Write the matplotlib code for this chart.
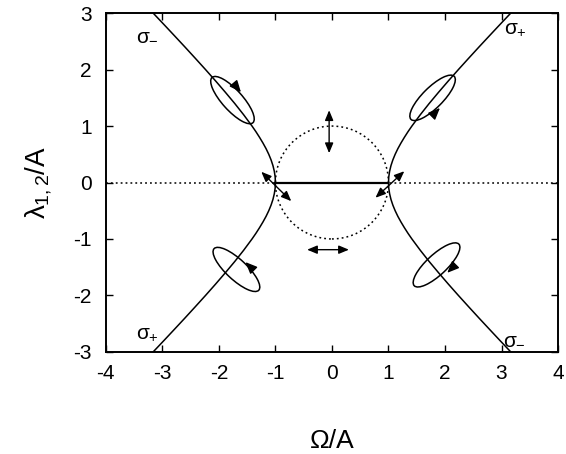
import matplotlib
matplotlib.use("Agg")
import matplotlib.pyplot as plt
from matplotlib.patches import Ellipse, Circle
import numpy as np

plt.rcParams['font.family'] = ['Liberation Sans', 'DejaVu Sans']
plt.rcParams['mathtext.fontset'] = 'custom'
plt.rcParams['mathtext.rm'] = 'Liberation Sans'
plt.rcParams['mathtext.it'] = 'Liberation Sans'
plt.rcParams['mathtext.bf'] = 'Liberation Sans'
plt.rcParams['axes.unicode_minus'] = False

# eigenvalue branch: lambda vs Omega (|Omega|>1)
lam_vals = [0.0, 0.1, 0.2, 0.3, 0.4, 0.5, 0.6, 0.7, 0.8, 0.9, 1.0,
            1.2, 1.4, 1.6, 1.8, 2.0, 2.2, 2.4, 2.6, 2.8, 3.0]
omg_vals = [1.000, 1.005, 1.020, 1.044, 1.077, 1.118, 1.166, 1.221, 1.281, 1.345, 1.414,
            1.562, 1.720, 1.887, 2.059, 2.236, 2.417, 2.600, 2.786, 2.973, 3.162]
# real-part segment between -1 and 1
seg_x = [-1.0, 1.0]
seg_y = [0.0, 0.0]
# zero line
zero_x = [-4.0, 4.0]
zero_y = [0.0, 0.0]
circle_radius = 1.0

# polarization ellipses: centre x, centre y, angle (deg)
ell_cx = [-1.76, 1.78, -1.69, 1.85]
ell_cy = [1.46, 1.50, -1.54, -1.46]
ell_ang = [-48, 45, -43, 43]
ell_w = 1.08
ell_h = 0.36
# arrowheads on ellipses: head x, head y, direction (deg)
head_x = [-1.61, 1.91, -1.53, 2.04]
head_y = [1.60, 1.32, -1.41, -1.60]
head_dir = [-50, 45, 135, -135]

# double arrows: (x0, y0, x1, y1)
dbl_arrows = [(-1.25, 0.19, -0.72, -0.33),
              (0.77, -0.27, 1.28, 0.20),
              (-0.05, 1.28, -0.05, 0.52),
              (-0.44, -1.19, 0.30, -1.19)]

# labels
sig_text = [r'$\sigma_{-}$', r'$\sigma_{+}$', r'$\sigma_{+}$', r'$\sigma_{-}$']
sig_x = [-3.47, 3.05, -3.47, 3.02]
sig_y = [2.62, 2.72, -2.68, -2.76]

fig = plt.figure(figsize=(5.66, 4.54), dpi=100)
ax = fig.add_axes([0.187, 0.225, 0.799, 0.746])

lw = 1.1
om = np.array(omg_vals)
la = np.array(lam_vals)
for sx in (1, -1):
    for sy in (1, -1):
        ax.plot(sx * om, sy * la, color='black', lw=lw)

ax.plot(zero_x, zero_y, color='black', lw=1.1, linestyle=(0, (1.2, 2.0)))
ax.plot(seg_x, seg_y, color='black', lw=1.6)
ax.add_patch(Circle((0, 0), circle_radius, fill=False, color='black', lw=1.1,
                    linestyle=(0, (1.2, 2.0))))

for cx, cy, a in zip(ell_cx, ell_cy, ell_ang):
    ax.add_patch(Ellipse((cx, cy), ell_w, ell_h, angle=a, fill=False,
                         color='black', lw=1.1))

for hx, hy, d in zip(head_x, head_y, head_dir):
    r = np.deg2rad(d)
    tx, ty = hx - 0.12 * np.cos(r), hy - 0.12 * np.sin(r)
    ax.annotate('', xy=(hx, hy), xytext=(tx, ty),
                arrowprops=dict(arrowstyle='-|>,head_length=0.7,head_width=0.3',
                                color='black', lw=1.0, shrinkA=0, shrinkB=0))

for x0, y0, x1, y1 in dbl_arrows:
    ax.annotate('', xy=(x1, y1), xytext=(x0, y0),
                arrowprops=dict(arrowstyle='<|-|>,head_length=0.6,head_width=0.25',
                                color='black', lw=1.0, shrinkA=0, shrinkB=0))

for t, x, y in zip(sig_text, sig_x, sig_y):
    ax.text(x, y, t, fontsize=15, ha='left', va='center')

ax.set_xlim(-4, 4)
ax.set_ylim(-3, 3)
ax.set_xticks([-4, -3, -2, -1, 0, 1, 2, 3, 4])
ax.set_yticks([-3, -2, -1, 0, 1, 2, 3])
ax.tick_params(direction='in', top=True, right=True, length=5, width=1.0,
               labelsize=15)
ax.tick_params(axis='x', pad=9)
ax.tick_params(axis='y', pad=10)
for s in ax.spines.values():
    s.set_linewidth(1.4)

ax.set_xlabel('Ω/A', fontsize=19, labelpad=33)
ax.set_ylabel(r'$\lambda_{1,2}$/A', fontsize=20, labelpad=14)

fig.savefig('out.png', dpi=100)
